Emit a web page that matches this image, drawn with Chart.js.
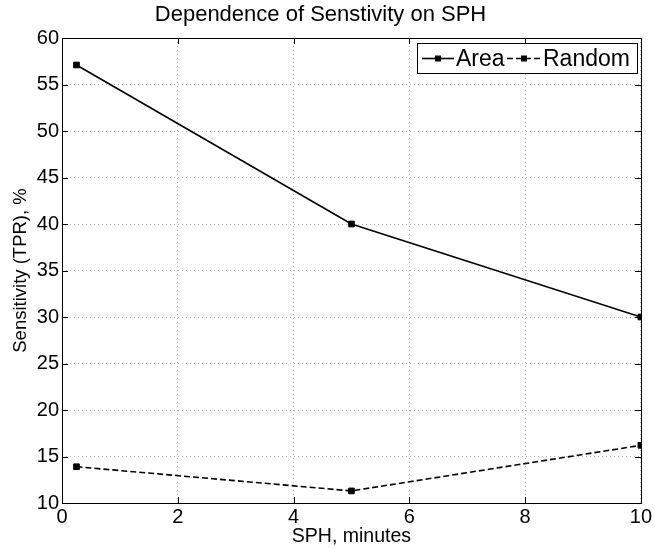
<!DOCTYPE html>
<html>
<head>
<meta charset="utf-8">
<script src="https://cdn.jsdelivr.net/npm/chart.js@4"></script>
<style>
  html, body { margin: 0; padding: 0; background: #fff; }
  canvas { display: block; }
</style>
</head>
<body>
<canvas id="myChart" width="654" height="548"></canvas>
<script>
// data
const sph = [0.25, 5, 10];
const areaTpr = [57.1, 40, 30];
const randomTpr = [13.9, 11.3, 16.2];

const xTicks = [0, 2, 4, 6, 8, 10];
const yTicks = [10, 15, 20, 25, 30, 35, 40, 45, 50, 55, 60];

const font = 'Liberation Sans, Arial, Helvetica, sans-serif';

function toPoints(ys) {
  return sph.map((x, i) => ({ x: x, y: ys[i] }));
}

// matlab style box, inward ticks and legend inside the axes
const matlabBox = {
  id: 'matlabBox',
  afterDraw(chart) {
    const c = chart.ctx;
    const a = chart.chartArea;
    const xs = chart.scales.x;
    const ys = chart.scales.y;
    c.save();
    c.strokeStyle = '#000';
    c.lineWidth = 1;
    c.setLineDash([]);
    c.beginPath();
    xTicks.forEach(v => {
      const px = Math.round(xs.getPixelForValue(v)) + 0.5;
      c.moveTo(px, a.bottom); c.lineTo(px, a.bottom - 6);
      c.moveTo(px, a.top); c.lineTo(px, a.top + 6);
    });
    yTicks.forEach(v => {
      const py = Math.round(ys.getPixelForValue(v)) + 0.5;
      c.moveTo(a.left, py); c.lineTo(a.left + 6, py);
      c.moveTo(a.right, py); c.lineTo(a.right - 6, py);
    });
    c.stroke();
    c.strokeRect(Math.round(a.left) + 0.5, Math.round(a.top) + 0.5,
      Math.round(a.right - a.left), Math.round(a.bottom - a.top));

    // legend
    const bx = 417.5, by = 43.5, bw = 220, bh = 30;
    c.fillStyle = '#fff';
    c.fillRect(bx, by, bw, bh);
    c.strokeRect(bx, by, bw, bh);
    const cy = by + bh / 2;
    const items = [
      { x0: 422, x1: 454, tx: 456 },
      { x0: 507, x1: 541, tx: 543 }
    ];
    c.font = '23px ' + font;
    c.textBaseline = 'middle';
    c.textAlign = 'left';
    chart.data.datasets.forEach((ds, i) => {
      const it = items[i];
      c.strokeStyle = ds.borderColor;
      c.lineWidth = ds.borderWidth;
      c.setLineDash(ds.borderDash || []);
      c.beginPath();
      c.moveTo(it.x0, cy); c.lineTo(it.x1, cy);
      c.stroke();
      c.setLineDash([]);
      c.fillStyle = '#000';
      const m = (it.x0 + it.x1) / 2;
      c.fillRect(m - 3, cy - 3, 6, 6);
      c.fillText(ds.label, it.tx, cy + 1);
    });
    c.restore();
  }
};

const ctx = document.getElementById('myChart').getContext('2d');
var myChart = new Chart(ctx, {
  type: 'line',
  data: {
    datasets: [{
      label: 'Area',
      data: toPoints(areaTpr),
      borderColor: '#000',
      backgroundColor: '#000',
      borderWidth: 1.6,
      pointStyle: 'rect',
      pointRadius: 4,
      pointBorderWidth: 1,
      tension: 0
    }, {
      label: 'Random',
      data: toPoints(randomTpr),
      borderColor: '#000',
      backgroundColor: '#000',
      borderWidth: 1.6,
      borderDash: [6, 3],
      pointStyle: 'rect',
      pointRadius: 4,
      pointBorderWidth: 1,
      tension: 0
    }]
  },
  options: {
    responsive: false,
    animation: false,
    layout: { padding: { left: 0, right: 13, top: 0, bottom: 0 } },
    plugins: {
      legend: { display: false },
      tooltip: { enabled: false },
      title: {
        display: true,
        text: 'Dependence of Senstivity on SPH',
        color: '#000',
        font: { family: font, size: 22, weight: 'normal' },
        padding: { top: 2, bottom: 9.6 }
      }
    },
    scales: {
      x: {
        type: 'linear',
        min: 0,
        max: 10,
        afterFit: s => { s.height = 45; },
        afterBuildTicks: s => { s.ticks = xTicks.map(v => ({ value: v })); },
        grid: { color: '#b8b8b8', drawTicks: false, lineWidth: 1 },
        border: { display: false, dash: [1, 3] },
        ticks: {
          color: '#000',
          padding: 2,
          maxRotation: 0,
          font: { family: font, size: 20 }
        },
        title: {
          display: true,
          text: 'SPH, minutes',
          color: '#000',
          font: { family: font, size: 19.5 },
          padding: { top: 0, bottom: 0 }
        }
      },
      y: {
        min: 10,
        max: 60,
        afterFit: s => { s.width = 62; },
        afterBuildTicks: s => { s.ticks = yTicks.map(v => ({ value: v })); },
        grid: { color: '#b8b8b8', drawTicks: false, lineWidth: 1 },
        border: { display: false, dash: [1, 3] },
        ticks: {
          color: '#000',
          padding: 3,
          font: { family: font, size: 20 }
        },
        title: {
          display: true,
          text: 'Sensitivity (TPR), %',
          color: '#000',
          font: { family: font, size: 18.5 },
          padding: { top: 10, bottom: 0 }
        }
      }
    }
  },
  plugins: [matlabBox]
});
</script>
</body>
</html>
